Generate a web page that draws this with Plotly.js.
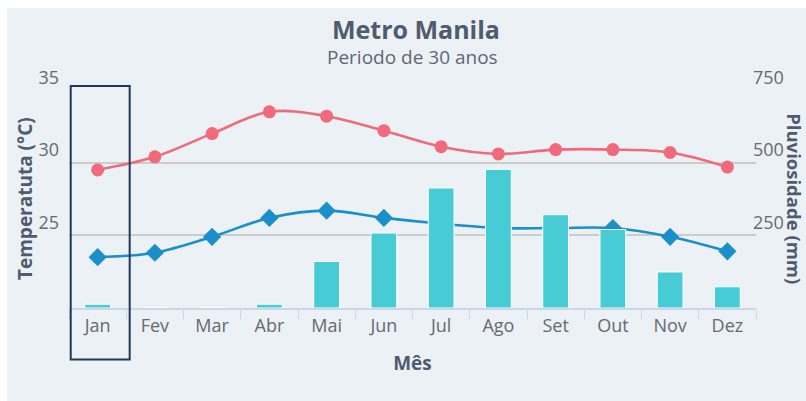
<!DOCTYPE html>
<html>
<head>
<meta charset="utf-8">
<script src="https://cdn.plot.ly/plotly-3.0.1.min.js"></script>
<style>
  html, body { margin: 0; padding: 0; background: #ffffff; }
  #chart { position: absolute; left: 7px; top: 8px; width: 799px; height: 393px; }
</style>
</head>
<body>
<div id="chart"></div>
<script>
const months = ["Jan", "Fev", "Mar", "Abr", "Mai", "Jun", "Jul", "Ago", "Set", "Out", "Nov", "Dez"];
const tempMax = [29.5, 30.4, 32.0, 33.5, 33.2, 32.2, 31.1, 30.6, 30.9, 30.9, 30.7, 29.7];
const tempMin = [23.5, 23.8, 24.9, 26.2, 26.7, 26.2, 25.8, 25.5, 25.5, 25.5, 24.9, 23.9];
const rain = [13, 2, 2, 13, 160, 258, 413, 477, 321, 270, 124, 73];
const tempTicks = [25, 30, 35];
const rainTicks = [250, 500, 750];
const highlightMonth = "Jan";

const panel = "#ecf1f6";
const tickFont = { family: "Open Sans, sans-serif", size: 18, color: "#666a70" };
const titleColor = "#4f5b6e";

const traces = [
  {
    type: "bar", x: months, y: rain, yaxis: "y2", name: "Pluviosidade",
    marker: { color: "#47cbd5", line: { color: "#ffffff", width: 1 } },
    width: 0.45, hoverinfo: "x+y"
  },
  {
    type: "scatter", mode: "lines+markers", x: months, y: tempMax, name: "Máxima",
    line: { color: "#f06a7b", width: 2.6, shape: "spline", smoothing: 1 },
    marker: { symbol: "circle", size: 13, color: "#f06a7b" }
  },
  {
    type: "scatter", mode: "lines+markers", x: months, y: tempMin, name: "Mínima",
    line: { color: "#1a8fc9", width: 2.6, shape: "spline", smoothing: 1 },
    marker: { symbol: "diamond", size: 14, color: "#1a8fc9" }
  }
];

const hi = months.indexOf(highlightMonth);

const layout = {
  width: 799, height: 393,
  margin: { l: 62, r: 50, t: 82, b: 93, pad: 0 },
  paper_bgcolor: panel, plot_bgcolor: panel,
  showlegend: false,
  bargap: 0.55,
  title: {
    text: "Metro Manila",
    font: { family: "Open Sans, sans-serif", size: 25, weight: 700, color: titleColor },
    x: 0.505, xref: "paper", xanchor: "center",
    y: 0.944, yref: "container", yanchor: "middle"
  },
  xaxis: {
    type: "category", range: [-0.5, 11.5],
    showline: true, linecolor: "#ccd6eb", linewidth: 2,
    ticks: "outside", tickson: "boundaries", ticklen: 9, tickcolor: "#ccd6eb", tickwidth: 1,
    tickfont: tickFont, showgrid: false, zeroline: false, fixedrange: true,
    title: { text: "Mês", font: { family: "Open Sans, sans-serif", size: 19, weight: 700, color: titleColor }, standoff: 21 },
    automargin: false
  },
  yaxis: {
    range: [20, 35], tickvals: tempTicks, ticktext: tempTicks.map(String),
    showgrid: true, gridcolor: "#cccccc", gridwidth: 2,
    showline: false, zeroline: false, ticks: "",
    ticklabelposition: "outside top", ticklabelstandoff: 9,
    tickfont: tickFont, automargin: false, fixedrange: true
  },
  yaxis2: {
    range: [0, 750], tickvals: rainTicks, ticktext: rainTicks.map(String),
    overlaying: "y", side: "right", showgrid: false,
    showline: false, zeroline: false, ticks: "",
    ticklabelposition: "outside top", ticklabelstandoff: -4,
    tickfont: tickFont, automargin: false, fixedrange: true
  },
  annotations: [
    {
      text: "Periodo de 30 anos", xref: "paper", yref: "paper",
      x: 0.5, y: 1.151, xanchor: "center", yanchor: "middle", showarrow: false,
      font: { family: "Open Sans, sans-serif", size: 19, color: "#5f6776" }
    },
    {
      text: "Temperatuta (°C)", xref: "paper", yref: "paper",
      x: -0.064, y: 0.5, xanchor: "center", yanchor: "middle", showarrow: false, textangle: -90,
      font: { family: "Open Sans, sans-serif", size: 19, weight: 700, color: titleColor }
    },
    {
      text: "Pluviosidade (mm)", xref: "paper", yref: "paper",
      x: 1.0565, y: 0.5, xanchor: "center", yanchor: "middle", showarrow: false, textangle: 90,
      font: { family: "Open Sans, sans-serif", size: 18.5, weight: 700, color: titleColor }
    }
  ],
  shapes: [
    {
      type: "rect", xref: "x", yref: "paper",
      x0: hi - 0.47, x1: hi + 0.56, y0: -0.236, y1: 1.018,
      line: { color: "#1f3b5b", width: 2 }, fillcolor: "rgba(0,0,0,0)", layer: "above"
    }
  ]
};

Plotly.newPlot("chart", traces, layout, { displayModeBar: false, staticPlot: true });
</script>
</body>
</html>
